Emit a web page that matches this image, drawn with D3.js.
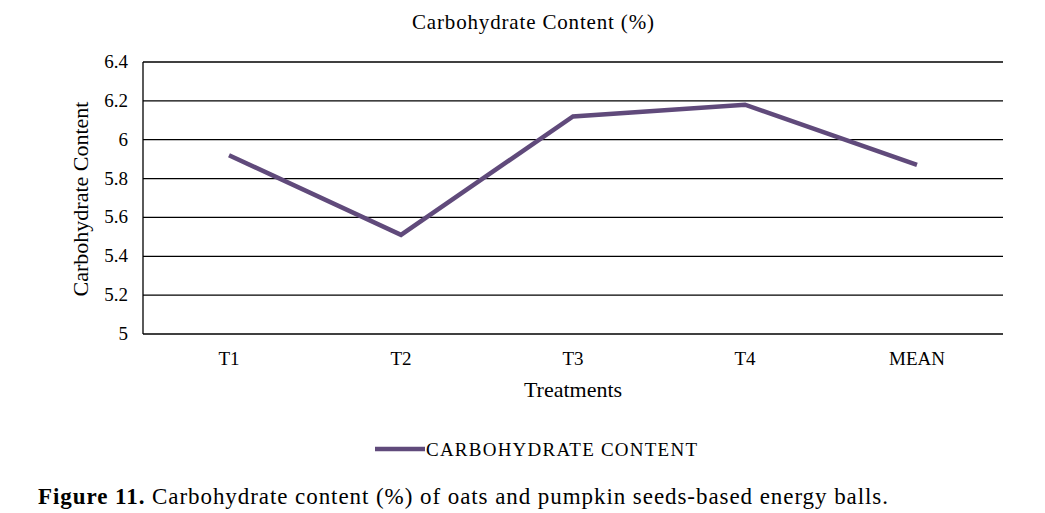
<!DOCTYPE html>
<html><head><meta charset="utf-8">
<script src="https://cdn.jsdelivr.net/npm/d3@7"></script>
<style>body{margin:0;background:#fff}text{font-family:"Liberation Serif","Times New Roman",serif;fill:#000}</style>
</head><body>
<svg id="c" width="1045" height="513"></svg>
<script>
const categories=["T1","T2","T3","T4","MEAN"];
const values=[5.92,5.51,6.12,6.18,5.87];
const yTicks=[5,5.2,5.4,5.6,5.8,6,6.2,6.4];
const svg=d3.select("#c");
const x=d3.scaleBand().domain(categories).range([143,1003]);
const y=d3.scaleLinear().domain([5,6.4]).range([334,62]);
const g=svg.append("g");
g.selectAll("line.grid").data(yTicks).enter().append("line")
 .attr("x1",143).attr("x2",1003).attr("y1",d=>y(d)).attr("y2",d=>y(d))
 .attr("stroke","#000").attr("stroke-width",1.3);
g.append("line").attr("x1",143).attr("x2",143).attr("y1",62).attr("y2",334).attr("stroke","#000").attr("stroke-width",1.3);
g.selectAll("text.yt").data(yTicks).enter().append("text")
 .attr("x",128).attr("y",d=>y(d)+6).attr("text-anchor","end").attr("font-size",19)
 .text(d=>d3.format("~g")(d));
g.selectAll("text.xt").data(categories).enter().append("text")
 .attr("x",d=>x(d)+x.bandwidth()/2).attr("y",365).attr("text-anchor","middle").attr("font-size",19).text(d=>d);
svg.append("path").datum(values)
 .attr("d",d3.line().x((d,i)=>x(categories[i])+x.bandwidth()/2).y(d=>y(d)))
 .attr("fill","none").attr("stroke","#604a7b").attr("stroke-width",4.5);
svg.append("text").attr("x",412).attr("y",29).attr("font-size",21).attr("textLength",242).text("Carbohydrate Content (%)");
svg.append("text").attr("x",573).attr("y",397).attr("text-anchor","middle").attr("font-size",22).text("Treatments");
svg.append("text").attr("transform","translate(88,199) rotate(-90)").attr("text-anchor","middle").attr("font-size",22).text("Carbohydrate Content");
svg.append("line").attr("x1",375).attr("x2",425).attr("y1",449).attr("y2",449).attr("stroke","#604a7b").attr("stroke-width",4.5);
svg.append("text").attr("x",426).attr("y",456).attr("font-size",19).attr("textLength",271).text("CARBOHYDRATE CONTENT");
const cap=svg.append("text").attr("x",38).attr("y",504).attr("font-size",23).attr("textLength",850);
cap.append("tspan").attr("font-weight","bold").text("Figure 11.");
cap.append("tspan").text(" Carbohydrate content (%) of oats and pumpkin seeds-based energy balls.");
</script></body></html>
